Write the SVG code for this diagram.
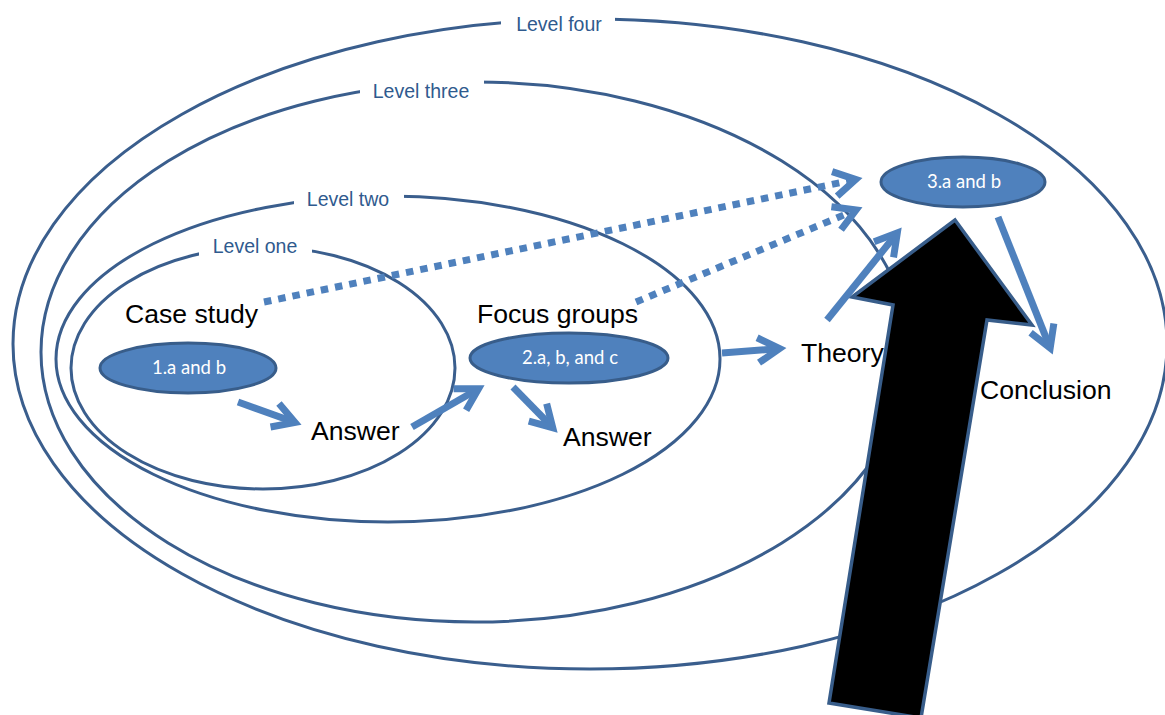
<svg xmlns="http://www.w3.org/2000/svg" width="1165" height="715" viewBox="0 0 1165 715">
<style>
.lvl{fill:none;stroke:#3a5e8d;stroke-width:3}
.lvltxt{font-family:"Liberation Sans",Arial,sans-serif;font-size:19.5px;fill:#2f5a8e;text-anchor:middle}
.gap{fill:#fff}
.node{fill:#4f81bd;stroke:#385d8a;stroke-width:3}
.ntxt{font-family:Lato,"Liberation Sans",sans-serif;font-size:18.5px;fill:#fff;text-anchor:middle}
.lbl{font-family:"Liberation Sans",Arial,sans-serif;font-size:26.6px;fill:#000}
.arr{fill:none;stroke:#4f81bd;stroke-width:7;marker-end:url(#head)}
.dot{fill:none;stroke:#4f81bd;stroke-width:7;stroke-dasharray:7.5 7;marker-end:url(#head)}
</style>
<defs>
<marker id="head" markerUnits="userSpaceOnUse" orient="auto" refX="0" refY="0" markerWidth="60" markerHeight="60" viewBox="-40 -30 60 60" overflow="visible">
<path d="M-21,-12.5 L0.5,0 L-21,12.5" fill="none" stroke="#4f81bd" stroke-width="7" stroke-linejoin="miter" stroke-miterlimit="10"/>
</marker>
</defs>
<rect width="1165" height="715" fill="#fff"/>
<g id="level-four">
<ellipse class="lvl" cx="590" cy="344" rx="577" ry="325"/>
<rect class="gap" x="501" y="8" width="114" height="28"/>
<text class="lvltxt" x="559" y="31">Level four</text>
</g>
<g id="level-three">
<ellipse class="lvl" cx="475" cy="352" rx="434" ry="270"/>
<rect class="gap" x="360" y="75" width="124" height="28"/>
<text class="lvltxt" x="421" y="98">Level three</text>
</g>
<g id="level-two">
<ellipse class="lvl" cx="388" cy="359" rx="332" ry="163"/>
<rect class="gap" x="294" y="188" width="110" height="26"/>
<text class="lvltxt" x="348" y="206">Level two</text>
</g>
<g id="level-one">
<ellipse class="lvl" cx="263" cy="368" rx="192" ry="121"/>
<rect class="gap" x="199" y="239" width="113" height="24"/>
<text class="lvltxt" x="255" y="253">Level one</text>
</g>
<g id="connectors-dotted">
<path class="dot" d="M264,302 L855.2,179.6"/>
<path class="dot" d="M636,302 L855.6,210.1"/>
</g>
<g id="node-1ab">
<ellipse class="node" cx="188" cy="368" rx="88" ry="25"/>
<text class="ntxt" x="189" y="374">1.a and b</text>
</g>
<g id="node-2abc">
<ellipse class="node" cx="569" cy="358" rx="99" ry="25"/>
<text class="ntxt" x="570" y="364">2.a, b, and c</text>
</g>
<g id="node-3ab">
<ellipse class="node" cx="963" cy="182" rx="82" ry="25"/>
<text class="ntxt" x="964" y="188">3.a and b</text>
</g>
<g id="big-arrow">
<polygon points="955,220 1032,325 987,320 921,718 829,703 893,305 852,297" fill="#000" stroke="#385d8a" stroke-width="3.5" stroke-linejoin="miter"/>
</g>
<g id="connectors">
<path class="arr" d="M238,402 L294.5,422.3"/>
<path class="arr" d="M412,427 L478.1,389"/>
<path class="arr" d="M513,387 L552.4,427.3"/>
<path class="arr" d="M722,353 L779,348.6"/>
<path class="arr" d="M827,320 L897,233.2"/>
<path class="arr" d="M998,217 L1050,347.6"/>
</g>
<g id="labels">
<text class="lbl" x="125" y="323">Case study</text>
<text class="lbl" x="477" y="323">Focus groups</text>
<text class="lbl" x="311" y="440">Answer</text>
<text class="lbl" x="563" y="446">Answer</text>
<text class="lbl" x="801" y="362">Theory</text>
<text class="lbl" x="980" y="399">Conclusion</text>
</g>
</svg>
